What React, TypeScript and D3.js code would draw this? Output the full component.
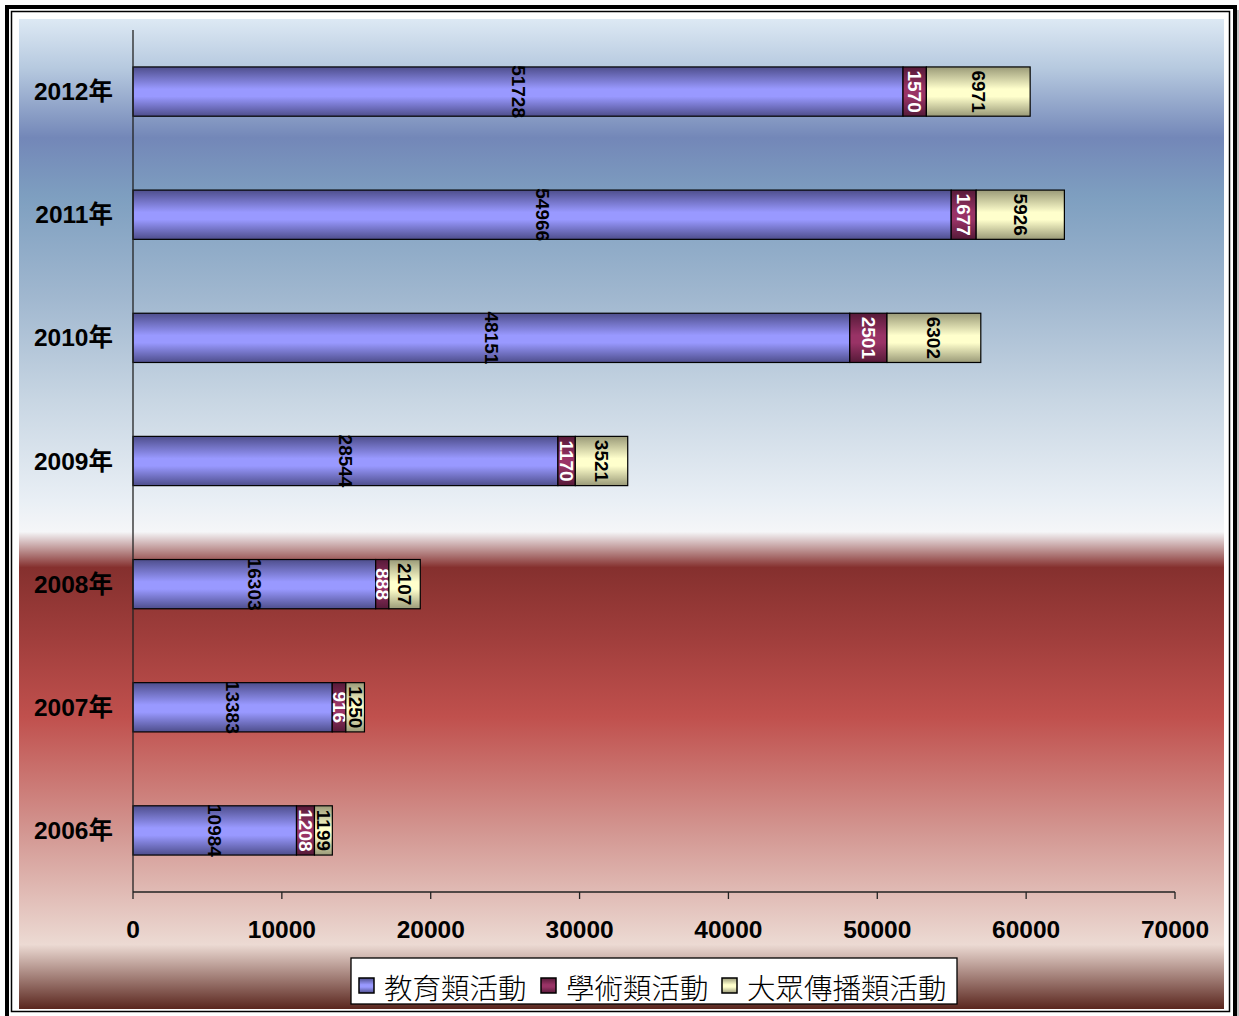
import * as d3 from "d3";

const years = ["2012年", "2011年", "2010年", "2009年", "2008年", "2007年", "2006年"];
const education = [51728, 54966, 48151, 28544, 16303, 13383, 10984];
const academic = [1570, 1677, 2501, 1170, 888, 916, 1208];
const media = [6971, 5926, 6302, 3521, 2107, 1250, 1199];
const seriesNames = ["教育類活動", "學術類活動", "大眾傳播類活動"];
const xTicks = [0, 10000, 20000, 30000, 40000, 50000, 60000, 70000];

const W = 1239;
const H = 1016;
const plot = { left: 133, right: 1175, top: 30, bottom: 892 };

const seriesStyle = [
  { grad: "gBlue", edge: "#4e4e8c", mid: "#9999ff", text: "#000" },
  { grad: "gMaroon", edge: "#561a38", mid: "#993366", text: "#fff" },
  { grad: "gCream", edge: "#9a9a78", mid: "#ffffcc", text: "#000" },
];

export default function App() {
  const x = d3.scaleLinear().domain([0, 70000]).range([plot.left, plot.right]);
  const y = d3
    .scaleBand<string>()
    .domain(years)
    .range([plot.top, plot.bottom])
    .paddingInner(0.6)
    .paddingOuter(0.3);

  const rows = years.map((yr, i) => ({ yr, vals: [education[i], academic[i], media[i]] }));
  const stack = d3
    .stack<{ yr: string; vals: number[] }, number>()
    .keys([0, 1, 2])
    .value((d, k) => d.vals[k]);
  const layers = stack(rows);

  const bg = [
    [0, "#dde9f4"],
    [0.05, "#b6c9df"],
    [0.12, "#7387b8"],
    [0.18, "#7e9fc0"],
    [0.28, "#a0b7cf"],
    [0.385, "#c8d6e3"],
    [0.486, "#e9eff5"],
    [0.518, "#f5f6f8"],
    [0.554, "#85302e"],
    [0.63, "#a23f3d"],
    [0.705, "#c0504d"],
    [0.822, "#d39792"],
    [0.935, "#ecdad3"],
    [1, "#5a261e"],
  ];

  const legendItems = [
    { sx: 359, tx: 384 },
    { sx: 541, tx: 566 },
    { sx: 722, tx: 747 },
  ];

  const sans = "Arial, 'Liberation Sans', 'Noto Sans CJK TC', sans-serif";

  return (
    <svg
      width={W}
      height={H}
      style={{ position: "absolute", left: 0, top: 0, background: "#fff" }}
    >
      <defs>
        <linearGradient id="bgGrad" x1="0" y1="0" x2="0" y2="1">
          {bg.map(([o, c], i) => (
            <stop key={i} offset={o as number} stopColor={c as string} />
          ))}
        </linearGradient>
        {seriesStyle.map((s) => (
          <linearGradient key={s.grad} id={s.grad} x1="0" y1="0" x2="0" y2="1">
            <stop offset="0" stopColor={s.edge} />
            <stop offset="0.45" stopColor={s.mid} />
            <stop offset="0.6" stopColor={s.mid} />
            <stop offset="1" stopColor={s.edge} />
          </linearGradient>
        ))}
      </defs>

      {/* frame */}
      <rect x={7} y={7} width={1228} height={1011} fill="none" stroke="#000" strokeWidth={4} />
      <line x1={1238} y1={10} x2={1238} y2={H} stroke="#888" strokeWidth={1} />
      <rect x={11.5} y={11.5} width={1218} height={1000} fill="#fff" stroke="#000" strokeWidth={1.5} />
      <rect x={19} y={19} width={1205} height={990} fill="url(#bgGrad)" />

      {/* bars */}
      {layers.map((layer, si) =>
        layer.map((d, i) => {
          const yr = rows[i].yr;
          const x0 = x(d[0]);
          const x1 = x(d[1]);
          const by = y(yr)!;
          const bh = y.bandwidth();
          const cx = (x0 + x1) / 2;
          const cy = by + bh / 2;
          return (
            <g key={`${si}-${i}`}>
              <rect
                x={x0}
                y={by}
                width={x1 - x0}
                height={bh}
                fill={`url(#${seriesStyle[si].grad})`}
                stroke="#000"
                strokeWidth={1.2}
              />
              <text
                transform={`translate(${cx},${cy}) rotate(90)`}
                textAnchor="middle"
                dominantBaseline="central"
                fontFamily={sans}
                fontWeight="bold"
                fontSize={19}
                fill={seriesStyle[si].text}
              >
                {rows[i].vals[si]}
              </text>
            </g>
          );
        })
      )}

      {/* axes */}
      <line x1={plot.left} y1={plot.top} x2={plot.left} y2={plot.bottom} stroke="#222" strokeWidth={1.3} />
      <line x1={plot.left} y1={plot.bottom} x2={plot.right} y2={plot.bottom} stroke="#222" strokeWidth={1.3} />
      {xTicks.map((t) => (
        <g key={t}>
          <line x1={x(t)} y1={plot.bottom} x2={x(t)} y2={plot.bottom + 7} stroke="#222" strokeWidth={1.3} />
          <text
            x={x(t)}
            y={929}
            textAnchor="middle"
            dominantBaseline="central"
            fontFamily={sans}
            fontWeight="bold"
            fontSize={24.5}
            fill="#000"
          >
            {t}
          </text>
        </g>
      ))}
      {years.map((yr) => (
        <text
          key={yr}
          x={113}
          y={y(yr)! + y.bandwidth() / 2}
          textAnchor="end"
          dominantBaseline="central"
          fontFamily={sans}
          fontWeight="bold"
          fontSize={24.5}
          fill="#000"
        >
          {yr}
        </text>
      ))}

      {/* legend */}
      <rect x={351} y={958} width={606} height={46} fill="#fff" stroke="#000" strokeWidth={1.3} />
      {legendItems.map((it, i) => (
        <g key={i}>
          <rect
            x={it.sx}
            y={978}
            width={15}
            height={15}
            fill={`url(#${seriesStyle[i].grad})`}
            stroke="#000"
            strokeWidth={1.5}
          />
          <text
            x={it.tx}
            y={986}
            dominantBaseline="central"
            fontFamily="'Noto Sans CJK TC', sans-serif"
            fontWeight={300}
            fontSize={28.5}
            fill="#000"
          >
            {seriesNames[i]}
          </text>
        </g>
      ))}
    </svg>
  );
}
